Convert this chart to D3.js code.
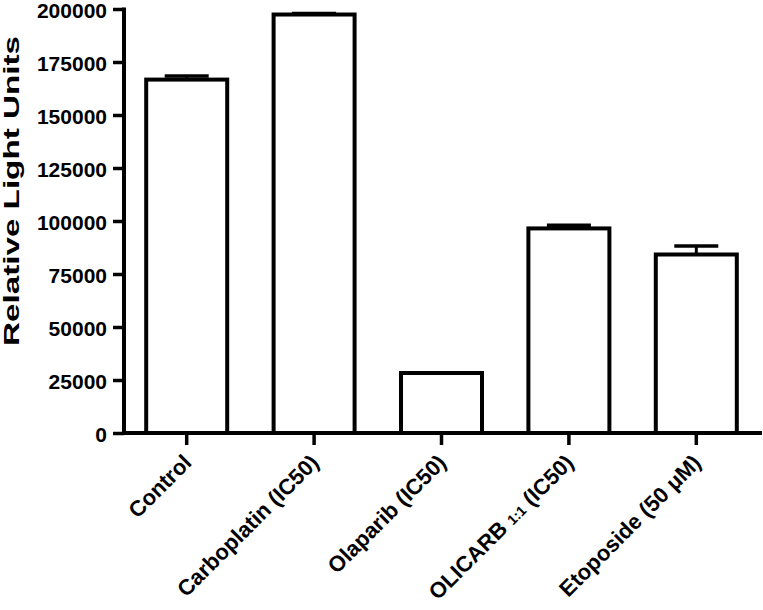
<!DOCTYPE html>
<html>
<head>
<meta charset="utf-8">
<script src="https://cdn.jsdelivr.net/npm/d3@7"></script>
<style>
  html, body { margin: 0; padding: 0; background: #fff; }
  svg { display: block; }
  text { font-family: "Liberation Sans", Arial, Helvetica, sans-serif; font-weight: bold; fill: #000; }
</style>
</head>
<body>
<svg id="chart" width="763" height="610"></svg>
<script>
const categories = ["Control", "Carboplatin (IC50)", "Olaparib (IC50)", "OLICARB 1:1 (IC50)", "Etoposide (50 μM)"];
const means = [166700, 197400, 28300, 96500, 84200];
const errors = [1700, 500, 0, 1500, 4000];
const yTicks = [0, 25000, 50000, 75000, 100000, 125000, 150000, 175000, 200000];
const yTitle = "Relative Light Units";

const svg = d3.select("#chart");
const x = d3.scaleBand().domain(categories).range([123, 760]).paddingInner(0).paddingOuter(0);
const y = d3.scaleLinear().domain([0, 200000]).range([433, 9]);
const barW = 81;
const axisX = 124;

// bars
svg.selectAll("rect.bar").data(categories).enter().append("rect")
  .attr("class", "bar")
  .attr("x", d => x(d) + x.bandwidth() / 2 - barW / 2)
  .attr("width", barW)
  .attr("y", (d, i) => y(means[i]))
  .attr("height", (d, i) => y(0) - y(means[i]))
  .attr("fill", "#fff").attr("stroke", "#000").attr("stroke-width", 4);

// error bars (upper only)
categories.forEach((c, i) => {
  if (errors[i] <= 0) return;
  const cx = x(c) + x.bandwidth() / 2;
  svg.append("line").attr("x1", cx).attr("x2", cx)
    .attr("y1", y(means[i])).attr("y2", y(means[i] + errors[i]))
    .attr("stroke", "#000").attr("stroke-width", 3);
  svg.append("line").attr("x1", cx - 22).attr("x2", cx + 22)
    .attr("y1", y(means[i] + errors[i])).attr("y2", y(means[i] + errors[i]))
    .attr("stroke", "#000").attr("stroke-width", 3.5);
});

// y axis
const yAxis = d3.axisLeft(y).tickValues(yTicks).tickFormat(d3.format("d")).tickSize(11).tickPadding(6);
const gy = svg.append("g").attr("transform", `translate(${axisX},0)`).call(yAxis);
gy.select(".domain").remove();
gy.selectAll(".tick line").attr("stroke", "#000").attr("stroke-width", 3.5);
gy.selectAll(".tick text").attr("font-size", 21).attr("dy", "0.39em").style("font-weight", "bold")
  .style("font-family", '"Liberation Sans", Arial, sans-serif').attr("fill", "#000");
svg.append("line").attr("x1", axisX).attr("x2", axisX).attr("y1", y(200000) - 1.5).attr("y2", y(0) + 1.75)
  .attr("stroke", "#000").attr("stroke-width", 4);

// x axis
const xAxis = d3.axisBottom(x).tickSize(12).tickFormat("");
const gx = svg.append("g").attr("transform", `translate(0,${y(0)})`).call(xAxis);
gx.select(".domain").remove();
gx.selectAll(".tick line").attr("stroke", "#000").attr("stroke-width", 3.5);
svg.append("line").attr("x1", axisX - 2).attr("x2", 762).attr("y1", y(0)).attr("y2", y(0))
  .attr("stroke", "#000").attr("stroke-width", 4);

// x labels
categories.forEach((c, i) => {
  const cx = x(c) + x.bandwidth() / 2;
  const t = svg.append("text")
    .attr("transform", `translate(${cx + 6},${y(0) + 31}) rotate(-45)`)
    .attr("text-anchor", "end")
    .attr("font-size", 22);
  if (c.startsWith("OLICARB")) {
    t.append("tspan").text("OLICARB ");
    t.append("tspan").attr("font-size", 14).text("1:1");
    t.append("tspan").text(" (IC50)");
  } else {
    t.text(c);
  }
});

// y title
svg.append("text")
  .attr("transform", "translate(19,191) rotate(-90)")
  .attr("text-anchor", "middle")
  .attr("font-size", 22)
  .attr("textLength", 310)
  .attr("lengthAdjust", "spacingAndGlyphs")
  .text(yTitle);
</script>
</body>
</html>
